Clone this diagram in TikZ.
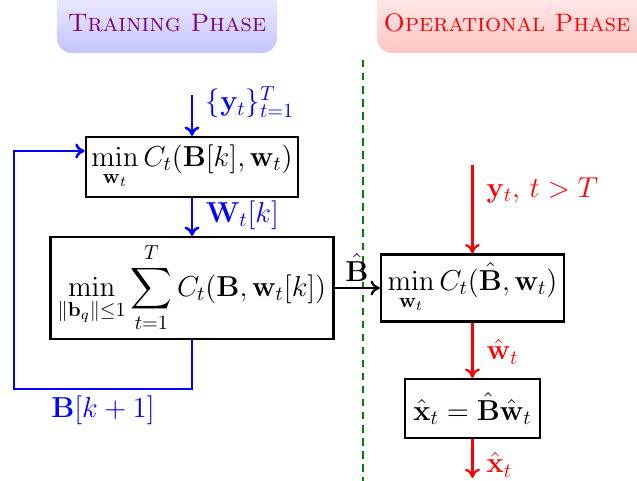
\RequirePackage{fix-cm}
\documentclass[tikz,border=0pt]{standalone}
\usepackage{amsmath,amssymb}
\usepackage{xcolor,tikz}
\usetikzlibrary{positioning,calc,arrows.meta}
\definecolor{phTrainText}{HTML}{800080}
\definecolor{phTrainTop}{HTML}{F6F6FF}
\definecolor{phTrainBot}{HTML}{C4C4FA}
\definecolor{phOpTop}{HTML}{FFF4F4}
\definecolor{phOpBot}{HTML}{FFC4C4}
\definecolor{phBlueLine}{HTML}{0000FF}
\definecolor{phRedLine}{HTML}{FF0000}
\definecolor{phGreenLine}{HTML}{008000}
\newcommand\phMathSize{\fontsize{15.5}{18}\selectfont}
\newcommand\phTitleSize{\fontsize{13.6}{16}\selectfont}
\tikzset{
  opt box/.style={
    draw=black, line width=1.3pt, fill=white,
    inner sep=3pt, font=\phMathSize,
  },
  train arrow/.style={
    -{To[length=5pt, width=8pt]}, line width=1.4pt, color=phBlueLine,
  },
  op arrow/.style={
    -{To[length=5pt, width=8pt]}, line width=1.2pt, color=phRedLine,
  },
  link arrow/.style={
    -{To[length=5pt, width=8pt]}, line width=1.2pt, color=black,
  },
  arrow label/.style={font=\phMathSize},
  phase tab/.style={rounded corners=8pt},
  phase divider/.style={
    line width=1.3pt, dash pattern=on 4pt off 3pt, color=phGreenLine,
  },
}

\begin{document}
\begin{tikzpicture}

\useasboundingbox (0,0) rectangle (12.02,-9.06);

% --- PHASE TABS ---
\shade[phase tab, top color=phTrainTop, bottom color=phTrainBot]
  (1.075,0.4) rectangle (5.226,-1.0);
\node[font=\phTitleSize, color=phTrainText] (trainTitle) at (3.151,-0.43)
  {\textsc{Training Phase}};
\shade[phase tab, top color=phOpTop, bottom color=phOpBot]
  (7.113,0.4) rectangle (12.5,-1.0);
\node[font=\phTitleSize, color=phRedLine] (opTitle) at (9.566,-0.43)
  {\textsc{Operational Phase}};

% --- DIVIDER ---
\draw[phase divider] (6.849,-1.132) -- (6.849,-9.3);

% --- TRAINING BOXES ---
\node[opt box, minimum width=4.0cm, minimum height=1.13cm]
  (costW) at (3.623,-3.151)
  {$\displaystyle\min_{\mathbf{w}_t} C_t(\mathbf{B}[k],\mathbf{w}_t)$};
\node[opt box, minimum width=5.34cm, minimum height=1.92cm]
  (dictUp) at (3.623,-5.434)
  {$\displaystyle\min_{\|\mathbf{b}_q\|\le 1}\sum_{t=1}^{T} C_t(\mathbf{B},\mathbf{w}_t[k])$};

% --- OPERATIONAL BOXES ---
\node[opt box, minimum width=3.45cm, minimum height=1.26cm]
  (costB) at (8.915,-5.434)
  {$\displaystyle\min_{\mathbf{w}_t} C_t(\hat{\mathbf{B}},\mathbf{w}_t)$};
\node[opt box, minimum width=2.55cm, minimum height=1.11cm]
  (recon) at (8.915,-7.708)
  {$\hat{\mathbf{x}}_t=\hat{\mathbf{B}}\hat{\mathbf{w}}_t$};

% --- TRAINING ARROWS ---
\coordinate (trainIn) at (3.623,-1.792);
\draw[train arrow] (trainIn) -- (costW.north);
\node[arrow label, anchor=west, color=phBlueLine] (yLbl) at (3.76,-1.93)
  {$\{\mathbf{y}_t\}_{t=1}^{T}$};
\draw[train arrow] (costW.south) -- (dictUp.north);
\node[arrow label, anchor=west, color=phBlueLine] (wLbl) at (3.76,-4.06)
  {$\mathbf{W}_t[k]$};

% --- FEEDBACK LOOP: dictionary update back to sparse coding ---
\coordinate (fbLow) at (0.264,-7.340);
\coordinate (fbTop) at (0.264,-2.849);
\draw[train arrow]
  (dictUp.south) |- (fbLow) -- (fbTop) -- (fbTop -| costW.west);
\node[arrow label, color=phBlueLine] (bNextLbl) at (1.943,-7.75)
  {$\mathbf{B}[k+1]$};

% --- HAND-OVER ---
\draw[link arrow] (dictUp.east) -- (costB.west);
\node[arrow label] (bHatLbl) at (6.736,-5.05) {$\hat{\mathbf{B}}$};

% --- OPERATIONAL ARROWS ---
\coordinate (opIn) at (8.915,-3.113);
\draw[op arrow] (opIn) -- (costB.north);
\node[arrow label, anchor=west, color=phRedLine] (yOpLbl) at (9.06,-3.585)
  {$\mathbf{y}_t,\, t>T$};
\draw[op arrow] (costB.south) -- (recon.north);
\node[arrow label, anchor=west, color=phRedLine] (wHatLbl) at (9.06,-6.64)
  {$\hat{\mathbf{w}}_t$};
\coordinate (opOut) at (8.915,-9.02);
\draw[op arrow] (recon.south) -- (opOut);
\node[arrow label, anchor=west, color=phRedLine] (xHatLbl) at (9.06,-8.77)
  {$\hat{\mathbf{x}}_t$};

\end{tikzpicture}
\end{document}
